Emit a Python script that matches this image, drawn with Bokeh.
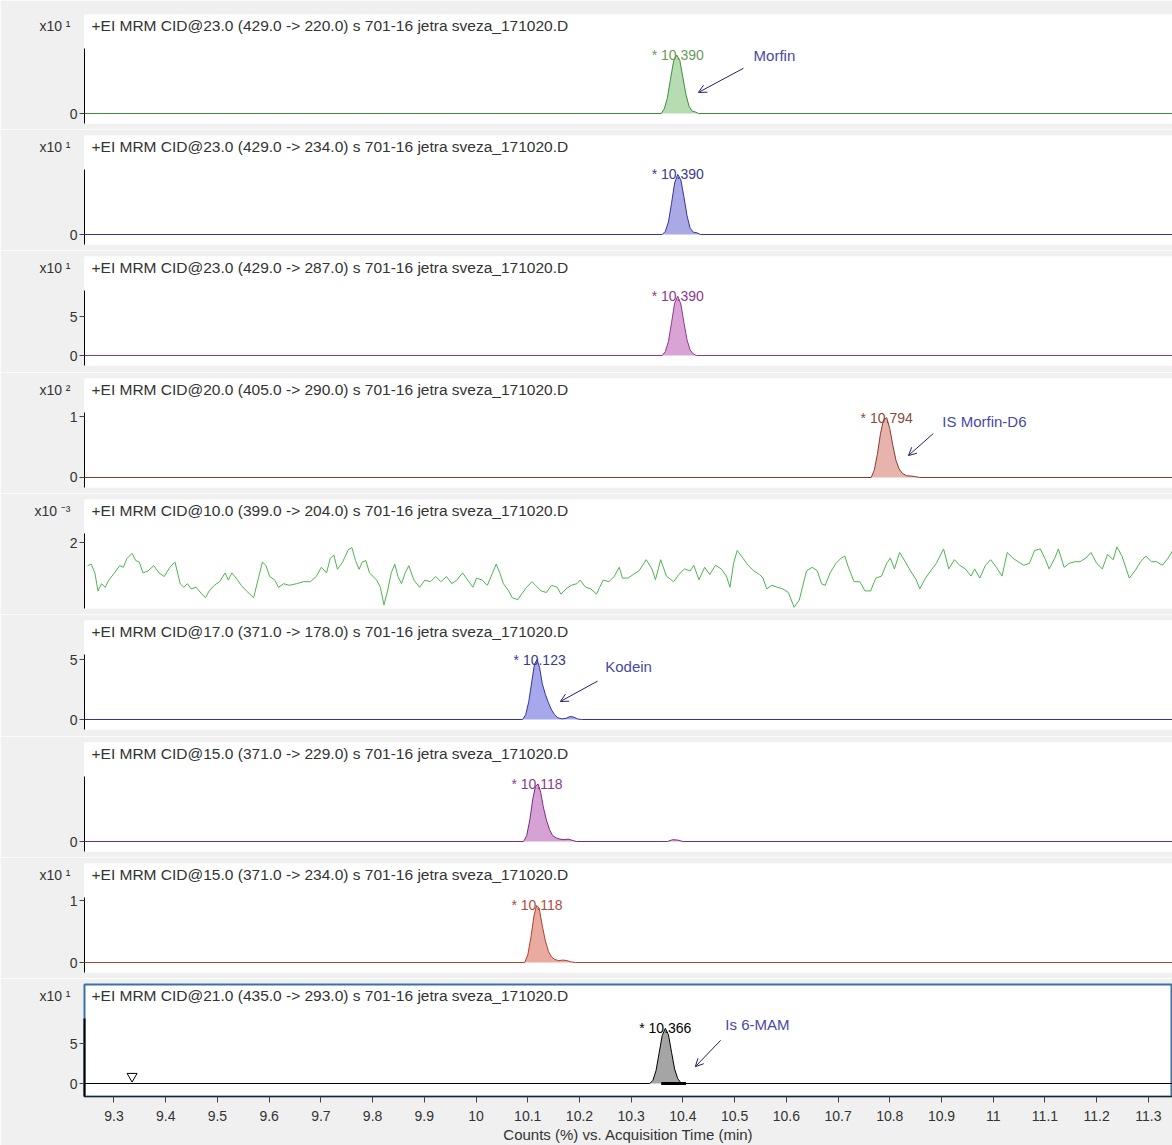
from bokeh.plotting import figure
from bokeh.models import (Range1d, FixedTicker, NumeralTickFormatter, Label, Arrow,
                          OpenHead, LinearAxis)
from bokeh.layouts import column
from bokeh.embed import file_html
from bokeh.resources import INLINE

FONT = "Liberation Sans"

# ---------------- data ----------------
x_ticks = [9.3, 9.4, 9.5, 9.6, 9.7, 9.8, 9.9, 10.0, 10.1, 10.2, 10.3, 10.4, 10.5,
           10.6, 10.7, 10.8, 10.9, 11.0, 11.1, 11.2, 11.3]
x_tick_labels = ["9.3", "9.4", "9.5", "9.6", "9.7", "9.8", "9.9", "10", "10.1", "10.2",
                 "10.3", "10.4", "10.5", "10.6", "10.7", "10.8", "10.9", "11", "11.1",
                 "11.2", "11.3"]
x_title = "Counts (%) vs. Acquisition Time (min)"

headers = [
    "+EI MRM CID@23.0 (429.0 -> 220.0) s 701-16 jetra sveza_171020.D",
    "+EI MRM CID@23.0 (429.0 -> 234.0) s 701-16 jetra sveza_171020.D",
    "+EI MRM CID@23.0 (429.0 -> 287.0) s 701-16 jetra sveza_171020.D",
    "+EI MRM CID@20.0 (405.0 -> 290.0) s 701-16 jetra sveza_171020.D",
    "+EI MRM CID@10.0 (399.0 -> 204.0) s 701-16 jetra sveza_171020.D",
    "+EI MRM CID@17.0 (371.0 -> 178.0) s 701-16 jetra sveza_171020.D",
    "+EI MRM CID@15.0 (371.0 -> 229.0) s 701-16 jetra sveza_171020.D",
    "+EI MRM CID@15.0 (371.0 -> 234.0) s 701-16 jetra sveza_171020.D",
    "+EI MRM CID@21.0 (435.0 -> 293.0) s 701-16 jetra sveza_171020.D",
]
multipliers = ["x10 \u00b9", "x10 \u00b9", "x10 \u00b9", "x10 \u00b2", "x10 \u207b\u00b3",
               None, None, "x10 \u00b9", "x10 \u00b9"]
y_ticks = [[0], [0], [0, 5], [0, 1], [2], [0, 5], [0], [0, 1], [0, 5]]

# peak retention-time labels
rt_labels = ["10.390", "10.390", "10.390", "10.794", None, "10.123", "10.118", "10.118", "10.366"]
rt_values = [10.390, 10.390, 10.390, 10.794, None, 10.123, 10.118, 10.118, 10.366]
compound_names = ["Morfin", None, None, "IS Morfin-D6", None, "Kodein", None, None, "Is 6-MAM"]

# chromatogram traces (time, intensity)
t1 = [9.243, 10.358, 10.364, 10.370, 10.376, 10.382, 10.388, 10.394, 10.400, 10.406, 10.412, 10.418, 10.424, 10.430, 11.347]
v1 = [0, 0, 0.6, 2.0, 4.4, 6.7, 7.5, 6.8, 4.6, 2.4, 0.9, 0.3, 0.2, 0, 0]

t2 = [9.243, 10.360, 10.366, 10.372, 10.378, 10.384, 10.390, 10.396, 10.402, 10.408, 10.414, 10.420, 10.428, 10.434, 11.347]
v2 = [0, 0, 0.4, 1.6, 4.0, 6.6, 7.7, 7.0, 4.8, 2.4, 0.8, 0.3, 0.2, 0, 0]

t3 = [9.243, 10.360, 10.366, 10.372, 10.378, 10.384, 10.390, 10.396, 10.402, 10.408, 10.414, 10.420, 10.426, 11.347]
v3 = [0, 0, 0.5, 1.8, 4.2, 6.7, 7.6, 6.6, 4.2, 2.0, 0.7, 0.2, 0, 0]

t4 = [9.243, 10.764, 10.770, 10.776, 10.782, 10.788, 10.794, 10.800, 10.806, 10.812, 10.818, 10.824, 10.832, 10.845, 10.858, 11.347]
v4 = [0, 0, 0.12, 0.38, 0.72, 0.95, 0.98, 0.80, 0.52, 0.28, 0.14, 0.07, 0.03, 0.02, 0, 0]

t5 = [9.249, 9.256, 9.263, 9.269, 9.276, 9.283, 9.290, 9.301, 9.311, 9.318, 9.325, 9.335,
      9.342, 9.349, 9.356, 9.366, 9.377, 9.387, 9.397, 9.408, 9.418, 9.428, 9.435, 9.442,
      9.449, 9.459, 9.470, 9.477, 9.484, 9.494, 9.504, 9.515, 9.521, 9.528, 9.539, 9.546,
      9.556, 9.570, 9.580, 9.587, 9.594, 9.601, 9.611, 9.618, 9.628, 9.639, 9.653, 9.666,
      9.680, 9.691, 9.701, 9.711, 9.718, 9.725, 9.732, 9.742, 9.753, 9.760, 9.767, 9.774,
      9.780, 9.787, 9.794, 9.801, 9.808, 9.815, 9.822, 9.829, 9.836, 9.843, 9.849, 9.856,
      9.863, 9.870, 9.880, 9.891, 9.901, 9.912, 9.922, 9.932, 9.943, 9.953, 9.963, 9.974,
      9.984, 9.994, 10.001, 10.012, 10.022, 10.032, 10.039, 10.046, 10.053, 10.063, 10.070,
      10.081, 10.088, 10.098, 10.108, 10.115, 10.126, 10.136, 10.146, 10.157, 10.164,
      10.174, 10.184, 10.195, 10.201, 10.212, 10.222, 10.233, 10.239, 10.246, 10.257,
      10.267, 10.277,
      10.283, 10.294, 10.304, 10.315, 10.329, 10.340, 10.347, 10.357, 10.368, 10.382,
      10.392, 10.403, 10.414, 10.421, 10.431, 10.442, 10.452, 10.463, 10.474, 10.484,
      10.491, 10.498, 10.505, 10.516, 10.526, 10.537, 10.548, 10.555, 10.562, 10.572,
      10.583, 10.593, 10.604, 10.615, 10.625, 10.632, 10.639, 10.650, 10.660, 10.668,
      10.675, 10.685, 10.696, 10.706, 10.713, 10.720, 10.731, 10.742, 10.752, 10.763,
      10.773, 10.784, 10.794, 10.801, 10.809, 10.819, 10.830, 10.840, 10.851, 10.858,
      10.869, 10.879, 10.890, 10.904, 10.914, 10.925, 10.935, 10.946, 10.957, 10.964,
      10.974, 10.985, 10.995, 11.006, 11.017, 11.027, 11.038, 11.048, 11.059, 11.070,
      11.080, 11.091, 11.101, 11.108, 11.119, 11.126, 11.137, 11.147, 11.158, 11.168,
      11.179, 11.189, 11.200, 11.211, 11.221, 11.232, 11.239, 11.249, 11.263, 11.274,
      11.285, 11.295, 11.306, 11.316, 11.327, 11.338, 11.347]
v5 = [1.42, 1.46, 1.24, 0.79, 0.97, 0.88, 1.06, 1.24, 1.42, 1.38, 1.60, 1.73,
      1.55, 1.51, 1.24, 1.29, 1.42, 1.24, 1.15, 1.38, 1.51, 0.97, 0.88, 0.97,
      0.84, 0.88, 0.71, 0.62, 0.79, 0.93, 1.02, 1.24, 1.06, 1.24, 1.06, 0.93,
      0.79, 0.62, 1.15, 1.51, 1.42, 1.15, 1.06, 0.88, 0.97, 0.93, 0.97, 1.02,
      1.02, 1.15, 1.38, 1.24, 1.60, 1.69, 1.33, 1.51, 1.82, 1.87, 1.55, 1.33,
      1.51, 1.55, 1.24, 1.15, 1.06, 0.88, 0.44, 0.79, 1.24, 1.46, 1.15, 0.97,
      1.24, 1.42, 1.06, 0.88, 1.06, 1.02, 1.15, 1.02, 1.15, 0.97, 1.06, 1.24,
      1.06, 0.88, 1.11, 1.06, 0.93, 1.24, 1.46, 1.24, 0.97, 0.79, 0.62,
      0.57, 0.71, 0.88, 1.02, 0.93, 0.79, 0.75, 0.93, 0.88, 0.71,
      0.84, 0.93, 0.97, 1.06, 0.88, 0.84, 0.71, 0.88, 1.06, 1.02,
      1.15, 1.38,
      1.11, 1.11, 1.20, 1.29, 1.57, 1.34, 1.07, 1.57, 1.16, 1.02,
      1.20, 1.34, 1.29, 1.43, 1.07, 1.38, 1.20, 1.43, 1.34, 1.16,
      0.88, 1.48, 1.80, 1.61, 1.43, 1.29, 1.20, 1.11, 0.84, 0.93,
      0.88, 0.84, 0.75, 0.38, 0.56, 0.93, 1.29, 1.38, 1.29, 0.97,
      0.93, 1.25, 1.48, 1.61, 1.66, 1.38, 1.02, 1.02, 0.79, 0.79,
      1.11, 1.16, 1.48, 1.61, 1.34, 1.75, 1.52, 1.29, 1.07, 0.84,
      1.11, 1.29, 1.48, 1.84, 1.34, 1.57, 1.43, 1.34, 1.16, 1.34,
      1.11, 1.43, 1.57, 1.38, 1.16, 1.75, 1.61, 1.52, 1.43, 1.48,
      1.80, 1.84, 1.57, 1.34, 1.61, 1.84, 1.38, 1.48, 1.52, 1.52,
      1.61, 1.75, 1.48, 1.34, 1.70, 1.57, 1.89, 1.66, 1.11, 1.29,
      1.52, 1.66, 1.52, 1.52, 1.43, 1.61, 1.80]

t6 = [9.243, 10.090, 10.096, 10.102, 10.108, 10.113, 10.118, 10.123, 10.128, 10.134, 10.140, 10.146, 10.152, 10.158, 10.166, 10.174, 10.182, 10.189, 10.196, 10.204, 11.347]
v6 = [0, 0, 0.4, 1.5, 3.2, 4.6, 5.0, 4.3, 3.0, 2.1, 1.4, 0.8, 0.4, 0.15, 0.05, 0.1, 0.25, 0.2, 0.05, 0, 0]

t7 = [9.243, 10.092, 10.098, 10.104, 10.110, 10.115, 10.120, 10.125, 10.130, 10.136, 10.142, 10.148, 10.155, 10.162, 10.170, 10.178, 10.186, 10.194, 10.370, 10.380, 10.390, 10.400, 11.347]
v7 = [0, 0, 0.5, 1.8, 3.6, 4.6, 4.8, 4.1, 2.9, 1.8, 1.0, 0.5, 0.3, 0.2, 0.15, 0.2, 0.1, 0, 0, 0.15, 0.12, 0, 0]

t8 = [9.243, 10.094, 10.100, 10.106, 10.112, 10.117, 10.122, 10.128, 10.134, 10.140, 10.146, 10.152, 10.160, 10.168, 10.176, 10.184, 10.192, 11.347]
v8 = [0, 0, 0.12, 0.40, 0.75, 0.92, 0.88, 0.60, 0.35, 0.18, 0.09, 0.05, 0.03, 0.04, 0.03, 0.01, 0, 0]

t9 = [9.243, 10.336, 10.342, 10.348, 10.354, 10.360, 10.366, 10.372, 10.378, 10.384, 10.390, 10.396, 10.404, 11.347]
v9 = [0, 0, 0.4, 1.6, 3.8, 6.0, 6.9, 6.1, 3.9, 1.8, 0.6, 0.1, 0, 0]

# integration baseline and event marker in the last trace
int_base_t = [10.358, 10.406]
int_base_v = [0, 0]
event_t = [9.335]
event_v = [0.9]

traces_t = [t1, t2, t3, t4, t5, t6, t7, t8, t9]
traces_v = [v1, v2, v3, v4, v5, v6, v7, v8, v9]

# ---------------- styling / layout ----------------
line_colors = ["#3c8f3c", "#3434a0", "#8b3a8b", "#8b3a2e", "#4fb34f", "#3434a0", "#7d2b7d", "#b3412f", "#000000"]
fill_colors = ["#b7dbb2", "#a9a9e6", "#d9a3d6", "#e6b3ad", None, "#a7a7ec", "#d6a2d6", "#e9aaa0", "#a5a5a5"]
rt_colors = ["#6a9a5a", "#3a3a8a", "#8b3a8b", "#8b4a3a", None, "#3a3a8a", "#8b3a8b", "#b34a3a", "#000000"]
NAME_COLOR = "#4848a8"
ARROW_COLOR = "#202070"
GRAY = "#f0f0f0"
TXT = "#333333"

# y ranges (start, end, top of axis line) per panel
y_ranges = [(-1.28, 12.69, 8.33), (-1.28, 12.69, 8.33), (-1.28, 12.69, 8.33),
            (-0.164, 1.623, 1.066), (0.35, 3.075, 2.225), (-0.833, 8.25, 5.42),
            (-0.833, 8.25, 5.42), (-0.161, 1.597, 1.048), (-1.625, 12.375, 8.125)]
fig_heights = [129, 121, 122, 121, 121, 122, 121, 121, 167]
top_borders = [14, 6, 6, 6, 6, 6, 6, 6, 6]
frame_heights = [109, 109, 109, 109, 109, 109, 109, 109, 112]

# name label position and arrow (x0, y0, x1, y1) in data units
name_pos = [(10.577, 7.4), None, None, (10.983, 0.92), None, (10.295, 4.4), None, None, (10.544, 7.4)]
arrows = [(10.517, 5.8, 10.430, 2.7), None, None, (10.884, 0.72, 10.836, 0.36), None,
          (10.235, 3.2, 10.163, 1.5), None, None, (10.473, 5.4, 10.424, 2.1)]

x_range = Range1d(9.243, 11.3466)
figs = []
n = len(headers)
for i in range(n):
    last = (i == n - 1)
    y0, y1, ytop = y_ranges[i]
    fh = frame_heights[i]
    H = fig_heights[i]
    tb = top_borders[i]
    p = figure(width=1172, height=H, x_range=x_range, y_range=Range1d(y0, y1),
               x_axis_location="below" if last else None, y_axis_location="left",
               output_backend="svg", toolbar_location=None, title=None,
               min_border_left=84, min_border_right=0, min_border_top=tb,
               min_border_bottom=H - tb - fh,
               background_fill_color="white", border_fill_color=GRAY,
               outline_line_color="#3a72a8" if last else None,
               outline_line_width=2)
    p.grid.visible = False

    yax = p.yaxis[0]
    yax.ticker = FixedTicker(ticks=y_ticks[i])
    yax.bounds = (y0, ytop)
    yax.axis_line_color = "black"
    yax.axis_line_width = 2 if last else 1
    yax.major_tick_line_color = "#444444"
    yax.major_tick_out = 5
    yax.major_tick_in = 0
    yax.minor_tick_line_color = None
    yax.major_label_standoff = 2
    yax.major_label_text_font = FONT
    yax.major_label_text_font_size = "14px"
    yax.major_label_text_color = TXT

    # multiplier shown as the label of an outer helper axis at header height
    if multipliers[i] is not None:
        p.extra_y_ranges = {"px": Range1d(0, fh)}
        hy = fh - 11
        max_ = LinearAxis(y_range_name="px", ticker=FixedTicker(ticks=[hy]),
                          major_label_overrides={hy: multipliers[i]},
                          axis_line_color=None, major_tick_line_color=None,
                          minor_tick_line_color=None, major_tick_out=0, major_tick_in=0,
                          major_label_standoff=-4, major_label_text_font=FONT,
                          major_label_text_font_size="14px", major_label_text_color=TXT)
        p.add_layout(max_, "left")

    if last:
        xax = p.xaxis[0]
        xax.ticker = FixedTicker(ticks=x_ticks)
        xax.formatter = NumeralTickFormatter(format="0.[0]")
        xax.major_label_overrides = {t: s for t, s in zip(x_ticks, x_tick_labels)}
        xax.axis_line_color = "#222222"
        xax.major_tick_line_color = "#444444"
        xax.major_tick_out = 6
        xax.major_tick_in = 0
        xax.minor_tick_line_color = None
        xax.major_label_standoff = 8
        xax.major_label_text_font = FONT
        xax.major_label_text_font_size = "14px"
        xax.major_label_text_color = TXT
        xax.axis_label = x_title
        xax.axis_label_text_font = FONT
        xax.axis_label_text_font_size = "15px"
        xax.axis_label_text_font_style = "normal"
        xax.axis_label_text_color = TXT
        xax.axis_label_standoff = 2

    t = traces_t[i]
    v = traces_v[i]
    if fill_colors[i] is not None:
        p.varea(x=t, y1=0, y2=v, fill_color=fill_colors[i], fill_alpha=1.0)
    p.line(t, v, line_color=line_colors[i], line_width=1)

    if last:
        p.line(int_base_t, int_base_v, line_color="black", line_width=3)
        p.scatter(event_t, event_v, marker="inverted_triangle", size=10,
                  fill_color="white", line_color="black", line_width=1)

    # header text
    p.add_layout(Label(x=7, y=fh - 11, x_units="screen", y_units="screen",
                       text=headers[i], text_font=FONT, text_font_size="15.5px",
                       text_color=TXT, text_baseline="middle", text_align="left"))
    # retention time label
    if rt_labels[i] is not None:
        apex = max(v)
        p.add_layout(Label(x=rt_values[i], y=apex, text="* " + rt_labels[i],
                           text_font=FONT, text_font_size="14px", text_color=rt_colors[i],
                           text_baseline="middle", text_align="center"))
    # compound name + arrow
    if compound_names[i] is not None:
        nx, ny = name_pos[i]
        p.add_layout(Label(x=nx, y=ny, text=compound_names[i], text_font=FONT,
                           text_font_size="15px", text_color=NAME_COLOR,
                           text_baseline="middle", text_align="center"))
        ax0, ay0, ax1, ay1 = arrows[i]
        p.add_layout(Arrow(x_start=ax0, y_start=ay0, x_end=ax1, y_end=ay1,
                           line_color=ARROW_COLOR, line_width=1,
                           end=OpenHead(size=8, line_color=ARROW_COLOR, line_width=1)))
    figs.append(p)

layout = column(*figs, spacing=0)
open("out.html", "w").write(file_html(layout, INLINE))
